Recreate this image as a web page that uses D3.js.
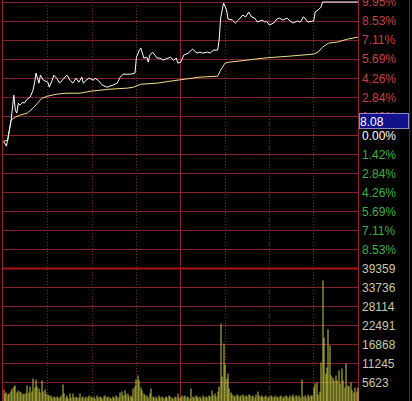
<!doctype html>
<html>
  <head>
    <meta charset="utf-8">
    <script src="https://cdn.jsdelivr.net/npm/d3@7"></script>
    <style>
      body {
        margin: 0;
        background-color: #000;
      }
      svg {
        display: block;
      }
      .axis text {
        font-family: 'Liberation Sans', Arial, sans-serif;
        font-size: 12px;
      }
    </style>
  </head>
  <body>
    <svg class="chart"></svg>
  <script>

    // percent ticks on the right (upper red, 0 white, lower green)
    const pctTicks = [9.95, 8.53, 7.11, 5.69, 4.26, 2.84, 1.42, 0, -1.42, -2.84, -4.26, -5.69, -7.11, -8.53]
    const volTicks = [39359, 33736, 28114, 22491, 16868, 11245, 5623]
    const timeTicks = [0, 30, 60, 90, 120, 150, 180, 210, 240]

    // price line, minute index -> % change
    const priceMin = [0, 2, 3, 5, 7, 8, 9, 10, 11, 13, 14, 16, 18, 20, 21, 22, 24, 25, 27, 30,
      31, 33, 34, 36, 38, 41, 43, 45, 47, 49, 51, 53, 54, 56, 58, 61, 62, 64, 67, 70,
      74, 77, 79, 81, 86, 89, 90, 92, 93, 95, 97, 98, 99, 101, 104, 106, 108, 113, 115, 117,
      118, 120, 122, 125, 128, 131, 133, 135, 138, 140, 142, 145, 146, 147, 149, 151, 152, 155, 157, 159,
      162, 164, 166, 168, 170, 172, 175, 177, 178, 180, 183, 185, 187, 189, 192, 194, 196, 199, 201, 203,
      204, 206, 210, 211, 213, 215, 216, 240]
    const pricePct = [-0.45, -0.82, -0.15, 0.97, 2.99, 1.87, 1.65, 2.39, 2.24, 2.47, 2.39, 2.69, 2.84, 3.37, 3.89, 4.64, 3.89, 4.49, 4.11, 3.96,
      3.59, 4.11, 4.49, 4.26, 3.89, 4.26, 4.49, 4.11, 3.89, 4.26, 3.96, 4.34, 3.89, 4.11, 4.26, 4.11, 4.26, 4.11, 3.74, 3.59,
      3.74, 3.89, 4.34, 4.56, 4.56, 4.64, 5.83, 6.36, 6.51, 5.76, 5.83, 5.46, 5.98, 6.21, 5.76, 5.76, 5.61, 5.83, 5.61, 5.76,
      5.39, 5.46, 5.98, 6.13, 6.43, 6.13, 6.21, 6.13, 6.21, 6.13, 6.36, 6.36, 7.11, 8.75, 9.87, 9.35, 8.68, 8.60, 8.38, 8.60,
      8.98, 8.83, 9.20, 8.83, 8.75, 8.45, 8.60, 8.45, 8.53, 8.23, 8.38, 8.68, 8.75, 8.60, 8.75, 8.53, 8.38, 8.53, 8.45, 8.83,
      8.75, 8.45, 8.53, 9.20, 9.35, 9.57, 9.95, 9.95]

    // average price line
    const avgMin = [0, 3, 5, 7, 8, 11, 16, 20, 23, 26, 30, 36, 43, 52, 59, 72, 84, 88, 93, 104,
      113, 123, 133, 145, 147, 150, 153, 165, 176, 184, 194, 210, 213, 216, 220, 226, 233, 240]
    const avgPct = [-0.45, -0.37, 1.12, 1.27, 1.35, 1.50, 1.65, 2.02, 2.39, 2.77, 2.92, 3.07, 3.14, 3.14, 3.29, 3.44, 3.52, 3.59, 3.81, 3.89,
      4.04, 4.19, 4.34, 4.41, 4.86, 5.39, 5.46, 5.61, 5.76, 5.83, 5.91, 6.06, 6.21, 6.58, 6.88, 6.96, 7.18, 7.33]

    // volume per minute, 241 values
    const volumes = [
      3550, 2370, 2660, 2070, 2370, 2960, 3850, 4440, 4740, 2660,
      3260, 2960, 2660, 2070, 2370, 2370, 4740, 2660, 4440, 2960,
      6810, 4140, 6510, 4440, 3850, 2660, 6220, 2960, 3550, 2370,
      2070, 1780, 1780, 1180, 1480, 1180, 1480, 1180, 1180, 1780,
      5030, 2370, 1180, 1780, 890, 2370, 1180, 2370, 1180, 1480,
      1180, 1180, 2370, 1180, 1480, 890, 1480, 1180, 1780, 1480,
      1180, 1480, 890, 1780, 1180, 1480, 1180, 890, 1480, 1780,
      1180, 1480, 1180, 890, 1480, 1180, 1780, 1480, 1180, 2660,
      2960, 1780, 3260, 2070, 2370, 1480, 1780, 1180, 3850, 4440,
      6510, 7700, 6220, 4140, 3260, 2370, 1780, 1780, 1180, 2370,
      3850, 1480, 1180, 1480, 890, 1780, 1180, 1480, 1180, 890,
      1480, 1180, 1780, 1480, 1180, 890, 1480, 1180, 2370, 1180,
      1180, 1780, 1480, 1780, 1180, 1480, 890, 3850, 1480, 1180,
      1780, 1480, 1180, 1480, 890, 1780, 1180, 1480, 1180, 1780,
      1480, 3260, 1780, 2370, 1480, 2960, 4440, 23090, 7400, 17170,
      10950, 6810, 8290, 3850, 2660, 2070, 1780, 1480, 2070, 1780,
      1480, 1780, 2070, 1480, 1780, 1480, 2070, 1780, 1480, 1780,
      1180, 2070, 2960, 1780, 1480, 1780, 1180, 1480, 1780, 1180,
      1480, 1780, 1480, 1180, 1780, 1480, 1180, 1480, 1780, 1180,
      1480, 1780, 1480, 1180, 1780, 1480, 2070, 1180, 1780, 1480,
      1780, 1180, 6510, 1480, 1780, 1180, 2070, 1480, 1780, 1780,
      4140, 5330, 5620, 2070, 2960, 11540, 35781, 18940, 8290, 10060,
      21310, 16580, 7700, 7100, 6220, 7700, 6220, 9180, 5330, 9770,
      6220, 4140, 11250, 4740, 4440, 5620, 3260, 2660, 4140, 2960, 4140
    ]

    const curPrice = "8.08"

    const width = 412,
        height = 401
    const left = 3, right = 358
    const priceTop = 2, split = 268.5, volBottom = 401.5

    const svg = d3.select("svg")
                .attr("width", width)
                .attr("height", height)

    const x = d3.scaleLinear()
                .domain([0, 240])
                .range([left + 0.5, right])

    const yPct = d3.scaleLinear()
                .domain([-9.95, 9.95])
                .range([split, priceTop])

    const yVol = d3.scaleLinear()
                .domain([0, 39359])
                .range([volBottom, split])

    const crisp = (v) => Math.floor(v) + 0.5

    // horizontal grid
    const grid = svg.append("g").attr("class", "grid")

    grid.selectAll(".hp")
      .data(pctTicks)
      .enter().append("line")
        .attr("x1", left).attr("x2", right)
        .attr("y1", (d) => crisp(yPct(d)))
        .attr("y2", (d) => crisp(yPct(d)))
        .attr("stroke", "#862028")

    grid.selectAll(".hv")
      .data(volTicks.slice(1))
      .enter().append("line")
        .attr("x1", left).attr("x2", right)
        .attr("y1", (d) => crisp(yVol(d)))
        .attr("y2", (d) => crisp(yVol(d)))
        .attr("stroke", "#862028")

    // vertical grid
    grid.selectAll(".vt")
      .data(timeTicks.slice(1, -1))
      .enter().append("line")
        .attr("x1", (d) => crisp(x(d))).attr("x2", (d) => crisp(x(d)))
        .attr("y1", priceTop).attr("y2", height)
        .attr("stroke", (d) => d == 120 ? "#8a2a30" : "#7a2a2a")
        .attr("stroke-dasharray", (d) => d == 120 ? null : "1,2")

    // borders
    grid.append("line")
      .attr("x1", left - 0.5).attr("x2", left - 0.5)
      .attr("y1", 0).attr("y2", height)
      .attr("stroke", "#96282a")
    grid.append("line")
      .attr("x1", right + 0.5).attr("x2", right + 0.5)
      .attr("y1", 0).attr("y2", height)
      .attr("stroke", "#96282a")
    grid.append("line")
      .attr("x1", 409.5).attr("x2", 409.5)
      .attr("y1", 0).attr("y2", height)
      .attr("stroke", "#6e2020")
    grid.append("line")
      .attr("x1", left).attr("x2", right)
      .attr("y1", split).attr("y2", split)
      .attr("stroke", "#b01414")
      .attr("stroke-width", 2)

    // volume bars
    svg.append("g")
        .attr("class", "vol")
      .selectAll("rect")
      .data(volumes)
      .enter().append("rect")
        .attr("x", (d, i) => Math.round(x(i)) - 0.5)
        .attr("y", (d) => yVol(d))
        .attr("width", 1)
        .attr("height", (d) => yVol(0) - yVol(d))
        .attr("fill", (d, i) => i == 0 ? "#d89040" : "#c8c846")

    // average and price lines
    const avgLine = d3.line()
                    .x((d) => x(d[0]))
                    .y((d) => yPct(d[1]))

    svg.append("path")
      .datum(d3.zip(avgMin, avgPct))
      .attr("d", avgLine)
      .attr("fill", "none")
      .attr("stroke", "#eee08c")
      .attr("stroke-width", 1)

    svg.append("path")
      .datum(d3.zip(priceMin, pricePct))
      .attr("d", avgLine)
      .attr("fill", "none")
      .attr("stroke", "#ffffff")
      .attr("stroke-width", 1)

    // right labels
    const pctAxis = d3.axisRight(yPct)
                    .tickValues(pctTicks)
                    .tickSize(0)
                    .tickPadding(4)
                    .tickFormat((d) => Math.abs(d).toFixed(2) + "%")

    const pa = svg.append("g")
        .attr("class", "axis")
        .attr("transform", "translate(" + right + ",0)")
        .call(pctAxis)
    pa.select(".domain").remove()
    pa.selectAll("text")
      .attr("fill", (d) => d > 0 ? "#cc4040" : (d < 0 ? "#40b040" : "#ffffff"))

    const volAxis = d3.axisRight(yVol)
                    .tickValues(volTicks)
                    .tickSize(0)
                    .tickPadding(4)

    const va = svg.append("g")
        .attr("class", "axis")
        .attr("transform", "translate(" + right + ",0)")
        .call(volAxis)
    va.select(".domain").remove()
    va.selectAll("text")
      .text((d) => d)
      .attr("fill", "#c8c8a8")

    // current price box
    svg.append("rect")
      .attr("x", 359.5).attr("y", 113.5)
      .attr("width", 49).attr("height", 15)
      .attr("fill", "#12128c")
      .attr("stroke", "#8a8ac8")
    svg.append("text")
      .attr("x", 360).attr("y", 126)
      .attr("fill", "#ffffff")
      .style("font-family", "'Liberation Sans', Arial, sans-serif")
      .style("font-size", "12px")
      .text(curPrice)

  </script>
  </body>
</html>
